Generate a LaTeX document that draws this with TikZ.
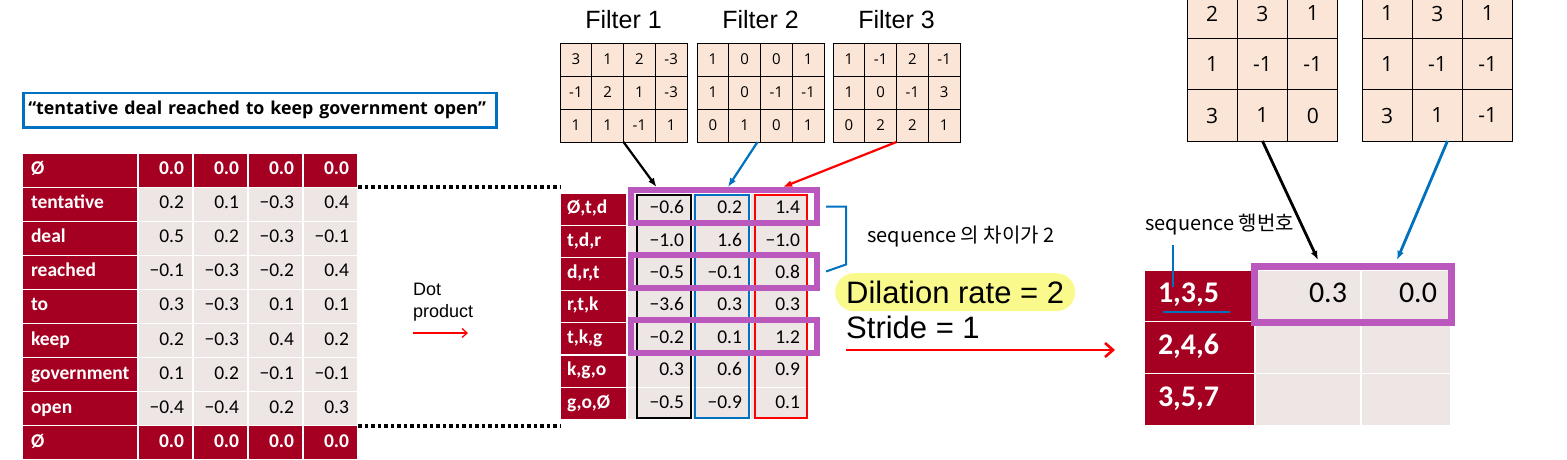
\documentclass[tikz,border=0pt]{standalone}
\usepackage{fontspec}
\setmainfont{Liberation Sans}
\newfontfamily\tabfont{Carlito}
\newfontfamily\numfont{Open Sans}
\newfontfamily\kofont{Noto Sans CJK KR}
\usetikzlibrary{arrows.meta,positioning,calc,fit}

\definecolor{tabred}{HTML}{A50021}
\definecolor{tabgray}{HTML}{EEE6E5}
\definecolor{peach}{HTML}{FBE5D6}
\definecolor{hlpurple}{HTML}{BA58BE}
\definecolor{msblue}{HTML}{0070C0}
\definecolor{hlyellow}{HTML}{FAFA8C}

\newcommand\tabsz{\fontsize{19.5}{19.5}\selectfont}
\newcommand\bigsz{\fontsize{30}{30}\selectfont}

\begin{document}
\begin{tikzpicture}[x=1pt, y=-1pt,
        cell/.style={draw=white, line width=1.2pt, outer sep=0pt, inner ysep=0pt,
            anchor=north west, text height=13pt, text depth=4pt},
        wordlbl/.style={cell, fill=tabred, text=white, font=\tabfont\bfseries\tabsz,
            text width=98pt, inner xsep=9pt, minimum height=34.1pt, align=left},
        wordval/.style={cell, fill=tabgray, font=\tabfont\tabsz,
            text width=37pt, inner xsep=9pt, minimum height=34.1pt, align=right},
        padval/.style={wordval, fill=tabred, text=white, font=\tabfont\bfseries\tabsz},
        gramlbl/.style={cell, fill=tabred, text=white, font=\tabfont\bfseries\tabsz,
            text width=53pt, inner xsep=7pt, minimum height=32.4pt, align=left},
        convval/.style={cell, fill=tabgray, font=\tabfont\tabsz,
            text width=#1, inner xsep=8pt, minimum height=32.4pt, align=right},
        seqlbl/.style={cell, fill=tabred, text=white, font=\tabfont\bfseries\bigsz,
            text width=83pt, inner xsep=14pt, minimum height=51.7pt, align=left,
            text height=20pt, text depth=6pt},
        outval/.style={cell, fill=tabgray, font=\tabfont\bigsz,
            text width=#1, inner xsep=14pt, minimum height=51.7pt, align=right,
            text height=20pt, text depth=6pt},
        fcell/.style={draw=black, line width=0.8pt, fill=peach, minimum width=31.75pt,
            minimum height=33pt, inner sep=0pt, outer sep=0pt, anchor=north west,
            font=\numfont\fontsize{15}{15}\selectfont},
        rcell/.style={fcell, minimum width=50.3pt, minimum height=51pt, line width=1pt,
            font=\numfont\fontsize{21}{21}\selectfont},
        ftitle/.style={inner sep=0pt, font=\fontsize{25}{25}\selectfont},
        note/.style={inner sep=0pt, font=\fontsize{18}{22}\selectfont, align=left},
        kotext/.style={inner sep=0pt, font=\kofont\fontsize{20}{20}\selectfont},
        bigtext/.style={inner sep=0pt, font=\fontsize{31}{31}\selectfont},
        hlbox/.style={draw=hlpurple, line width=6pt, inner sep=0pt},
        colbox/.style={draw=#1, line width=2.4pt},
        farrow/.style={-{Latex[length=9pt,width=7pt]}, line width=2.2pt},
        dotarrow/.style={red, line width=1.3pt, -{Straight Barb[length=5pt,width=9pt]}},
        stridearrow/.style={red, line width=2.6pt, -{Straight Barb[length=8pt,width=14pt]}},
        bluebar/.style={msblue, line width=2pt}
    ]
    \useasboundingbox (0,0) rectangle (1567,460);

    % input sentence
    \node[draw=msblue, line width=2.5pt, anchor=north west, minimum height=34pt,
        text width=463pt, inner xsep=5pt, align=left,
        font=\numfont\bfseries\fontsize{17.8}{17.8}\selectfont]
        (sent) at (22,92) {“tentative deal reached to keep government open”};

    % word embeddings
    \foreach \w/\a/\b/\c/\d [count=\i] in {tentative/0.2/0.1/−0.3/0.4,
        deal/0.5/0.2/−0.3/−0.1, reached/−0.1/−0.3/−0.2/0.4, to/0.3/−0.3/0.1/0.1,
        keep/0.2/−0.3/0.4/0.2, government/0.1/0.2/−0.1/−0.1, open/−0.4/−0.4/0.2/0.3} {
        \node[wordlbl] (w\i) at (22,{153+\i*34.1}) {\w};
        \node[wordval, right=0pt of w\i] (e\i-1) {\a};
        \node[wordval, right=0pt of e\i-1] (e\i-2) {\b};
        \node[wordval, right=0pt of e\i-2] (e\i-3) {\c};
        \node[wordval, right=0pt of e\i-3] (e\i-4) {\d};
    }
    \foreach \i in {0,8} {
        \node[wordlbl] (w\i) at (22,{153+\i*34.1}) {Ø};
        \node[padval, right=0pt of w\i] (e\i-1) {0.0};
        \node[padval, right=0pt of e\i-1] (e\i-2) {0.0};
        \node[padval, right=0pt of e\i-2] (e\i-3) {0.0};
        \node[padval, right=0pt of e\i-3] (e\i-4) {0.0};
    }

    % filters
    \foreach \k/\fx/\vals in {1/560/{3,1,2,-3,-1,2,1,-3,1,1,-1,1},
        2/697/{1,0,0,1,1,0,-1,-1,0,1,0,1}, 3/833/{1,-1,2,-1,1,0,-1,3,0,2,2,1}} {
        \foreach \v [count=\n from 0] in \vals {
            \pgfmathtruncatemacro\fr{int(\n/4)+1}
            \pgfmathtruncatemacro\fc{mod(\n,4)+1}
            \node[fcell] (f\k-\fr-\fc) at ({\fx+(\fc-1)*31.75},{43+(\fr-1)*33}) {\v};
        }
        \node[ftitle, above=14pt] (ft\k) at ($(f\k-1-1.north west)!.5!(f\k-1-4.north east)$) {Filter \k};
    }

    % trigram feature map
    \foreach \g/\a/\b/\c [count=\i] in {{Ø,t,d}/−0.6/0.2/1.4, {t,d,r}/−1.0/1.6/−1.0,
        {d,r,t}/−0.5/−0.1/0.8, {r,t,k}/−3.6/0.3/0.3, {t,k,g}/−0.2/0.1/1.2,
        {k,g,o}/0.3/0.6/0.9, {g,o,Ø}/−0.5/−0.9/0.1} {
        \node[gramlbl] (g\i) at (560,{193+(\i-1)*32.4}) {\g};
        \node[convval=49pt, right=0pt of g\i] (c\i-1) {\a};
        \node[convval=42pt, right=0pt of c\i-1] (c\i-2) {\b};
        \node[convval=42pt, right=0pt of c\i-2] (c\i-3) {\c};
    }
    \draw[colbox=black] ([shift={(10pt,-2pt)}]c1-1.north west) rectangle ([shift={(-1pt,2pt)}]c7-1.south east);
    \draw[colbox=msblue] ([shift={(3pt,-2pt)}]c1-2.north west) rectangle ([shift={(-1pt,2pt)}]c7-2.south east);
    \draw[colbox=red] ([shift={(5pt,-2pt)}]c1-3.north west) rectangle ([shift={(-1pt,2pt)}]c7-3.south east);
    \foreach \i in {1,3,5}
        \node[hlbox, fit={([shift={(4pt,3pt)}]c\i-1.north west) ([shift={(9pt,2pt)}]c\i-3.south east)}] (p\i) {};

    % padding rows line up with the trigrams
    \draw[line width=3.5pt, dash pattern=on 3.7pt off 2.8pt] (e1-4.north east) -- (e1-4.north east -| g1.west);
    \draw[line width=3.5pt, dash pattern=on 3.7pt off 2.8pt] (e8-4.north east) -- (e8-4.north east -| g7.west);

    \node[note, anchor=north west] (dot) at (413,283) {Dot\\product};
    \coordinate (dotend) at (468,333);
    \draw[dotarrow] (dot.south west |- dotend) -- (dotend);

    \draw[farrow, black] (f1-3-2.south east) -- ([xshift=-3pt,yshift=6pt]c1-1.north);
    \draw[farrow, msblue] ([xshift=-3pt]f2-3-2.south east) -- ([xshift=7pt,yshift=6pt]c1-2.north);
    \draw[farrow, red] (f3-3-2.south east) -- ([xshift=4pt,yshift=6pt]c1-3.north);

    \draw[bluebar] ([xshift=6pt]p1.east) -| ([xshift=26pt,yshift=7pt]p3.east) -- ([xshift=6pt]p3.east);
    \node[kotext, anchor=west] (gap) at (867,237) {sequence 의 차이가 2};

    \node[bigtext, fill=hlyellow, rounded corners=19pt, minimum height=38pt, inner xsep=11pt,
        anchor=north west] (dil) at (835,273) {Dilation rate = 2};
    \node[bigtext, anchor=west] (stride) at (846,327) {Stride = 1};

    % dilated output
    \foreach \s/\a/\b [count=\i] in {{1,3,5}/0.3/0.0, {2,4,6}/{}/{}, {3,5,7}/{}/{}} {
        \node[seqlbl] (s\i) at (1144,{270+(\i-1)*51.7}) {\s};
        \node[outval=78pt, right=0pt of s\i] (o\i-1) {\a};
        \node[outval=62pt, right=0pt of o\i-1] (o\i-2) {\b};
    }
    \node[hlbox, line width=7pt, fit={([shift={(-1pt,3.5pt)}]o1-1.north west) ([shift={(0.5pt,-0.8pt)}]o1-2.south east)}] (pout) {};

    \coordinate (strideend) at (1115,350);
    \draw[stridearrow] (stride.west |- strideend) -- (strideend);

    \foreach \k/\fx/\vals in {1/1187/{2,3,1,1,-1,-1,3,1,0}, 2/1362/{1,3,1,1,-1,-1,3,1,-1}} {
        \foreach \v [count=\n from 0] in \vals {
            \pgfmathtruncatemacro\fr{int(\n/3)+1}
            \pgfmathtruncatemacro\fc{mod(\n,3)+1}
            \node[rcell] (r\k-\fr-\fc) at ({\fx+(\fc-1)*50.3},{-12+(\fr-1)*51}) {\v};
        }
    }
    \draw[farrow, black, line width=2.8pt] (r1-3-2.south) -- ([xshift=10pt,yshift=10pt]o1-1.north);
    \draw[farrow, msblue, line width=2.8pt] ([xshift=10pt]r2-3-2.south) -- ([xshift=-9pt,yshift=10pt]o1-2.north);

    \node[kotext, anchor=west] (rowno) at (1145,225) {sequence 행번호};
    \draw[bluebar] ([xshift=29pt,yshift=25pt]s1.north west) -- ([xshift=29pt,yshift=-17pt]s1.north west);
    \draw[bluebar] ([xshift=19pt,yshift=10pt]s1.south west) -- ([xshift=86pt,yshift=10pt]s1.south west);
\end{tikzpicture}
\end{document}
